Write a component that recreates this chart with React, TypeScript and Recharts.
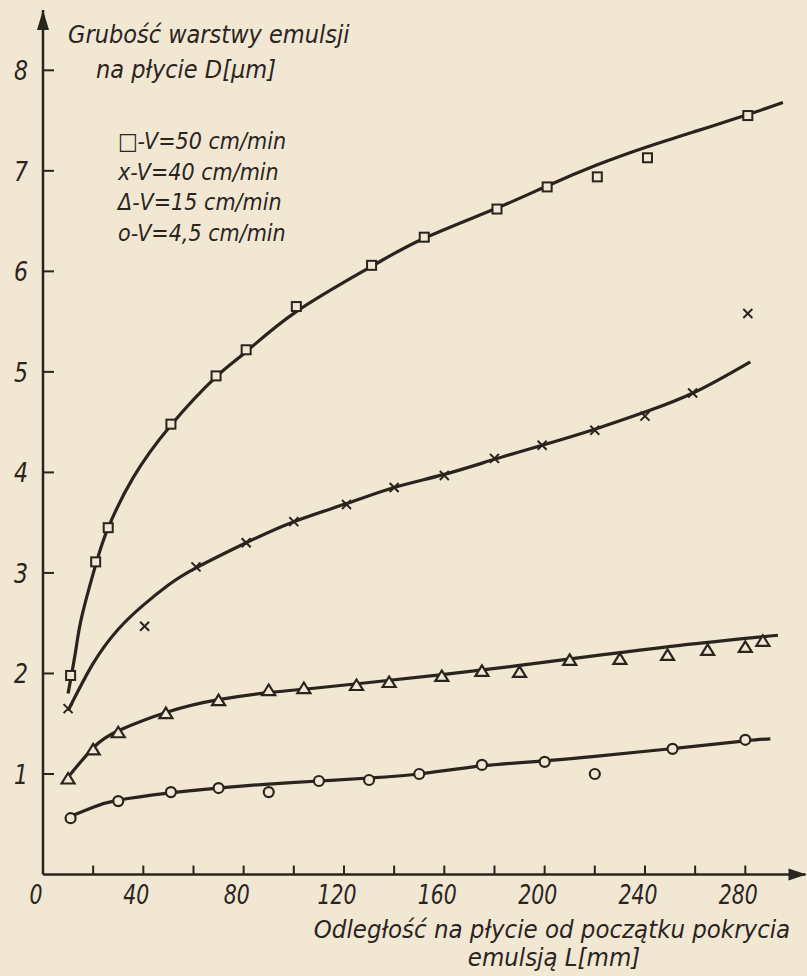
import React from "react";
import { ComposedChart, Line, Scatter, XAxis, YAxis, ReferenceDot } from "recharts";

const paper = "#f2e7d3";
const ink = "#2a241f";
const font = "'DejaVu Sans Condensed', 'DejaVu Sans', sans-serif";

const xTicks = [0, 20, 40, 60, 80, 100, 120, 140, 160, 180, 200, 220, 240, 260, 280];
const yTicks = [1, 2, 3, 4, 5, 6, 7, 8];

// measured points, L [mm] -> D [um]
const pts50 = [
  { L: 11, D: 1.98 }, { L: 21, D: 3.11 }, { L: 26, D: 3.45 }, { L: 51, D: 4.48 },
  { L: 69, D: 4.96 }, { L: 81, D: 5.22 }, { L: 101, D: 5.65 }, { L: 131, D: 6.06 },
  { L: 152, D: 6.34 }, { L: 181, D: 6.62 }, { L: 201, D: 6.84 }, { L: 221, D: 6.94 },
  { L: 241, D: 7.13 }, { L: 281, D: 7.55 },
];
const pts40 = [
  { L: 10, D: 1.65 }, { L: 40.5, D: 2.47 }, { L: 61, D: 3.06 }, { L: 81, D: 3.3 },
  { L: 100, D: 3.51 }, { L: 121, D: 3.68 }, { L: 140, D: 3.85 }, { L: 160, D: 3.97 },
  { L: 180, D: 4.14 }, { L: 199, D: 4.27 }, { L: 220, D: 4.42 }, { L: 240, D: 4.56 },
  { L: 259, D: 4.79 }, { L: 281, D: 5.58 },
];
const pts15 = [
  { L: 10, D: 0.95 }, { L: 20, D: 1.24 }, { L: 30, D: 1.41 }, { L: 49, D: 1.6 },
  { L: 70, D: 1.73 }, { L: 90, D: 1.83 }, { L: 104, D: 1.85 }, { L: 125, D: 1.88 },
  { L: 138, D: 1.91 }, { L: 159, D: 1.97 }, { L: 175, D: 2.02 }, { L: 190, D: 2.01 },
  { L: 210, D: 2.13 }, { L: 230, D: 2.14 }, { L: 249, D: 2.18 }, { L: 265, D: 2.23 },
  { L: 280, D: 2.26 }, { L: 287, D: 2.32 },
];
const pts45 = [
  { L: 11, D: 0.56 }, { L: 30, D: 0.73 }, { L: 51, D: 0.82 }, { L: 70, D: 0.86 },
  { L: 90, D: 0.82 }, { L: 110, D: 0.93 }, { L: 130, D: 0.94 }, { L: 150, D: 1.0 },
  { L: 175, D: 1.09 }, { L: 200, D: 1.12 }, { L: 220, D: 1.0 }, { L: 251, D: 1.25 },
  { L: 280, D: 1.34 },
];

// hand-drawn fitted curves
const curve50 = [
  { L: 10, D: 1.8 }, { L: 13, D: 2.22 }, { L: 15.5, D: 2.57 }, { L: 21, D: 3.08 },
  { L: 26, D: 3.45 }, { L: 36, D: 3.95 }, { L: 51, D: 4.47 }, { L: 69, D: 4.95 },
  { L: 81, D: 5.2 }, { L: 101, D: 5.6 }, { L: 131, D: 6.05 }, { L: 152, D: 6.33 },
  { L: 181, D: 6.63 }, { L: 201, D: 6.85 }, { L: 221, D: 7.06 }, { L: 241, D: 7.24 },
  { L: 261, D: 7.4 }, { L: 281, D: 7.56 }, { L: 295, D: 7.68 },
];
const curve40 = [
  { L: 10, D: 1.63 }, { L: 20, D: 2.1 }, { L: 30, D: 2.44 }, { L: 40, D: 2.68 },
  { L: 50, D: 2.88 }, { L: 61, D: 3.05 }, { L: 81, D: 3.3 }, { L: 100, D: 3.51 },
  { L: 121, D: 3.69 }, { L: 140, D: 3.85 }, { L: 160, D: 3.98 }, { L: 180, D: 4.13 },
  { L: 199, D: 4.27 }, { L: 220, D: 4.43 }, { L: 240, D: 4.6 }, { L: 260, D: 4.8 },
  { L: 282, D: 5.1 },
];
const curve15 = [
  { L: 10, D: 0.97 }, { L: 20, D: 1.26 }, { L: 30, D: 1.43 }, { L: 50, D: 1.62 },
  { L: 70, D: 1.74 }, { L: 90, D: 1.81 }, { L: 107, D: 1.85 }, { L: 130, D: 1.91 },
  { L: 160, D: 1.99 }, { L: 190, D: 2.08 }, { L: 218, D: 2.17 }, { L: 254, D: 2.28 },
  { L: 293, D: 2.38 },
];
const curve45 = [
  { L: 10, D: 0.57 }, { L: 20, D: 0.67 }, { L: 30, D: 0.74 }, { L: 50, D: 0.81 },
  { L: 70, D: 0.86 }, { L: 90, D: 0.9 }, { L: 110, D: 0.93 }, { L: 130, D: 0.96 },
  { L: 150, D: 1.0 }, { L: 175, D: 1.08 }, { L: 200, D: 1.13 }, { L: 218, D: 1.17 },
  { L: 250, D: 1.25 }, { L: 280, D: 1.33 }, { L: 290, D: 1.35 },
];

const legendLines = ["□-V=50 cm/min", "x-V=40 cm/min", "Δ-V=15 cm/min", "o-V=4,5 cm/min"];

const Square = (p: any) => (
  <rect x={p.cx - 4.5} y={p.cy - 4.5} width={9} height={9} fill={paper} stroke={ink} strokeWidth={2} />
);
const Cross = (p: any) => (
  <g stroke={ink} strokeWidth={2}>
    <line x1={p.cx - 4.5} y1={p.cy - 4.5} x2={p.cx + 4.5} y2={p.cy + 4.5} />
    <line x1={p.cx - 4.5} y1={p.cy + 4.5} x2={p.cx + 4.5} y2={p.cy - 4.5} />
  </g>
);
const Tri = (p: any) => (
  <polygon
    points={`${p.cx},${p.cy - 6} ${p.cx - 6.5},${p.cy + 4.5} ${p.cx + 6.5},${p.cy + 4.5}`}
    fill={paper} stroke={ink} strokeWidth={2.2} strokeLinejoin="miter"
  />
);
const Ring = (p: any) => <circle cx={p.cx} cy={p.cy} r={5} fill={paper} stroke={ink} strokeWidth={2.2} />;

const XTick = (p: any) => {
  const v = p.payload.value;
  return (
    <g>
      {v > 0 && <line x1={p.x} x2={p.x} y1={p.y} y2={p.y - 9} stroke={ink} strokeWidth={2} />}
      {v % 40 === 0 && (
        <text x={p.x - 7} y={p.y + 29} textAnchor="middle" fontFamily={font} fontStyle="italic"
          fontSize={27} fill={ink} textLength={String(v).length * 13} lengthAdjust="spacingAndGlyphs">
          {v}
        </text>
      )}
    </g>
  );
};
const YTick = (p: any) => (
  <g>
    <line x1={p.x} x2={p.x + 11} y1={p.y} y2={p.y} stroke={ink} strokeWidth={2} />
    <text x={p.x - 22} y={p.y + 10} textAnchor="middle" fontFamily={font} fontStyle="italic"
      fontSize={27} fill={ink} textLength={14} lengthAdjust="spacingAndGlyphs">
      {p.payload.value}
    </text>
  </g>
);

const ArrowRight = (p: any) => (
  <polygon points={`${p.cx + 1},${p.cy} ${p.cx - 17},${p.cy - 6} ${p.cx - 17},${p.cy + 6}`} fill={ink} />
);
const ArrowUp = (p: any) => (
  <polygon points={`${p.cx},${p.cy} ${p.cx - 6},${p.cy + 20} ${p.cx + 6},${p.cy + 20}`} fill={ink} />
);

const curve = (data: any[], key: string) => (
  <Line key={key} data={data} dataKey="D" type="natural" stroke={ink} strokeWidth={3.2}
    dot={false} activeDot={false} isAnimationActive={false} />
);

export default function App() {
  return (
    <div style={{ position: "absolute", left: 0, top: 0, width: 807, height: 976, background: paper }}>
      <ComposedChart width={807} height={976} margin={{ top: 10, right: 1.5, bottom: 41.5, left: 0 }}>
        <XAxis dataKey="L" type="number" domain={[0, 304]} ticks={xTicks} interval={0}
          allowDataOverflow tickSize={0} tickMargin={0} height={60} tick={<XTick />}
          axisLine={{ stroke: ink, strokeWidth: 2.5 }} tickLine={false} />
        <YAxis dataKey="D" type="number" domain={[0, 8.6]} ticks={yTicks} interval={0}
          allowDataOverflow tickSize={0} tickMargin={0} width={43} tick={<YTick />}
          axisLine={{ stroke: ink, strokeWidth: 2.5 }} tickLine={false} />
        {curve(curve50, "c50")}
        {curve(curve40, "c40")}
        {curve(curve15, "c15")}
        {curve(curve45, "c45")}
        <Scatter data={pts50} dataKey="D" shape={Square} isAnimationActive={false} />
        <Scatter data={pts40} dataKey="D" shape={Cross} isAnimationActive={false} />
        <Scatter data={pts15} dataKey="D" shape={Tri} isAnimationActive={false} />
        <Scatter data={pts45} dataKey="D" shape={Ring} isAnimationActive={false} />
        <ReferenceDot x={304} y={0} r={0} ifOverflow="visible" shape={ArrowRight} />
        <ReferenceDot x={0} y={8.6} r={0} ifOverflow="visible" shape={ArrowUp} />
      </ComposedChart>
      <svg width={807} height={976} style={{ position: "absolute", left: 0, top: 0, pointerEvents: "none" }}>
        <g fontFamily={font} fontStyle="italic" fill={ink}>
          <text x={68} y={43} fontSize={25}>Grubość warstwy emulsji</text>
          <text x={96} y={78} fontSize={25}>na płycie D[μm]</text>
          {legendLines.map((t, i) => (
            <text key={t} x={118} y={149 + i * 30.7} fontSize={23}>{t}</text>
          ))}
          <text x={552} y={938} fontSize={25.5} textAnchor="middle">Odległość na płycie od początku pokrycia</text>
          <text x={554} y={966} fontSize={25.5} textAnchor="middle">emulsją L[mm]</text>
        </g>
      </svg>
    </div>
  );
}
